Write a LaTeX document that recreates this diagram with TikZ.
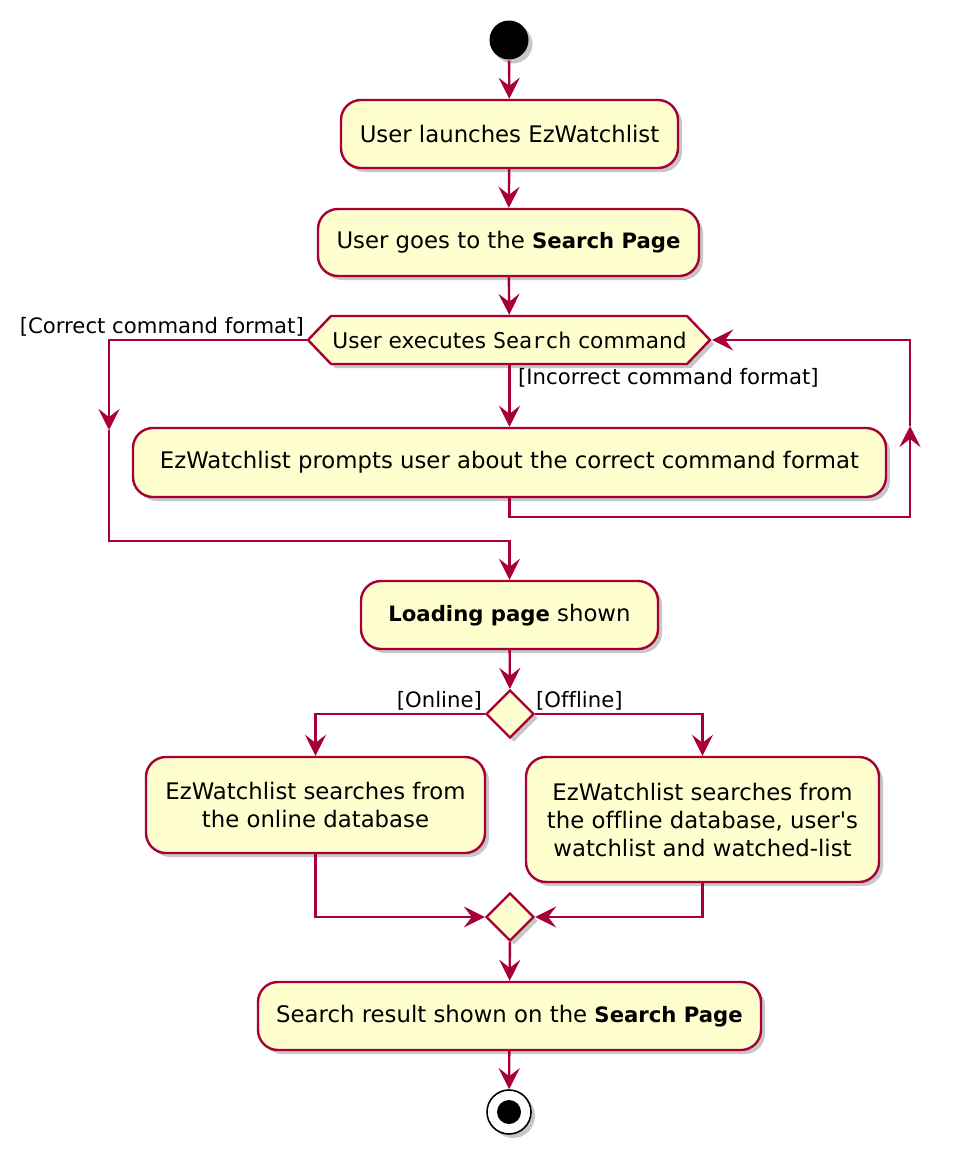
\documentclass[tikz,border=0pt]{standalone}
\usepackage{fontspec}
\setmainfont{DejaVu Sans}[Ligatures={TeXOff,CommonOff},BoldFeatures={Scale=0.93}]
\setmonofont{DejaVu Sans Mono}
\usetikzlibrary{arrows.meta,shapes.geometric,shadows}

\definecolor{umlred}{HTML}{A80036}
\definecolor{umlfill}{HTML}{FEFECE}
\newcommand\actfont{\fontsize{22.8}{28}\selectfont}
\newcommand\hexfont{\fontsize{21.7}{26}\selectfont}
\newcommand\guardfont{\fontsize{21.2}{25}\selectfont}

\begin{document}
\begin{tikzpicture}[x=1pt,y=-1pt,line width=2.4pt,
 >={Stealth[length=21pt,width=21pt,inset=8pt]},
 shade/.style={drop shadow={shadow xshift=4pt,shadow yshift=-4pt,fill=black,opacity=.22}},
 act/.style={draw=umlred,fill=umlfill,rounded corners=20pt,align=center,inner sep=0pt,font=\actfont,shade},
 branch/.style={draw=umlred,fill=umlfill,diamond,minimum width=48pt,minimum height=48pt,inner sep=0pt,shade},
 guard/.style={font=\guardfont,inner sep=0pt},
 flow/.style={draw=umlred,->}]
\useasboundingbox (0,0) rectangle (959,1154);

% start and actions
\node[circle,fill=black,minimum size=39pt,inner sep=0pt,shade] (start) at (509,40) {};
\node[act,minimum width=337pt,minimum height=68pt] (launch) at (509.5,134) {User launches EzWatchlist};
\node[act,minimum width=381pt,minimum height=67pt] (goto) at (508.5,242.5) {User goes to the \textbf{Search Page}};

% hexagon decision
\path[draw=umlred,fill=umlfill,shade] (308,340) -- (331,316) -- (687,316) -- (710,340) -- (687,364) -- (331,364) -- cycle;
\node[minimum width=403pt,minimum height=48pt,inner sep=0pt,font=\hexfont] (cmd) at (509.5,340) {User executes \texttt{Search} command};

\node[act,minimum width=753pt,minimum height=69pt] (prompt) at (509.5,462.5) {EzWatchlist prompts user about the correct command format};
\node[act,minimum width=297pt,minimum height=68pt] (loading) at (509.5,615) {\textbf{Loading page} shown};

\node[branch] (split) at (510,714) {};
\node[act,minimum width=339pt,minimum height=96pt] (online) at (315.5,805) {EzWatchlist searches from\\the online database};
\node[act,minimum width=353pt,minimum height=125pt] (offline) at (702.5,819.5) {EzWatchlist searches from\\the offline database, user's\\watchlist and watched-list};
\node[branch] (merge) at (510,917) {};

\node[act,minimum width=503pt,minimum height=68pt] (result) at (509.5,1016) {Search result shown on the \textbf{Search Page}};
\node[circle,draw=black,fill=white,line width=1.6pt,minimum size=44pt,inner sep=0pt,shade] (stop) at (509,1112) {};
\node[circle,fill=black,minimum size=24pt,inner sep=0pt] (stopdot) at (stop) {};

% bend points
\coordinate (cdown) at (109,430);
\coordinate (cjoin) at (109,541);
\coordinate (lcorner) at (910,517);
\coordinate (lup) at (910,426);

% connectors
\draw[flow] (start) -- (launch);
\draw[flow] (launch) -- (goto);
\draw[flow] (goto) -- (cmd);
\draw[flow] (cmd) -- (prompt);
\draw[flow] (cmd.west) -| (cdown);
\draw[flow] (cdown) -- (cjoin) -| (loading);
\draw[flow] (prompt.south) |- (lcorner) -- (lup);
\draw[flow] (lup) |- (cmd.east);
\draw[flow] (loading) -- (split);
\draw[flow] (split.west) -| (online);
\draw[flow] (split.east) -| (offline);
\draw[flow] (online) |- (merge.west);
\draw[flow] (offline) |- (merge.east);
\draw[flow] (merge) -- (result);
\draw[flow] (result) -- (stop);

% guards
\node[guard,anchor=east] (gcorrect) at (305,327) {[Correct command format]};
\node[guard,anchor=west] (gincorrect) at (517,378) {[Incorrect command format]};
\node[guard,anchor=east] (gonline) at (483,701) {[Online]};
\node[guard,anchor=west] (goffline) at (535,701) {[Offline]};
\end{tikzpicture}
\end{document}
